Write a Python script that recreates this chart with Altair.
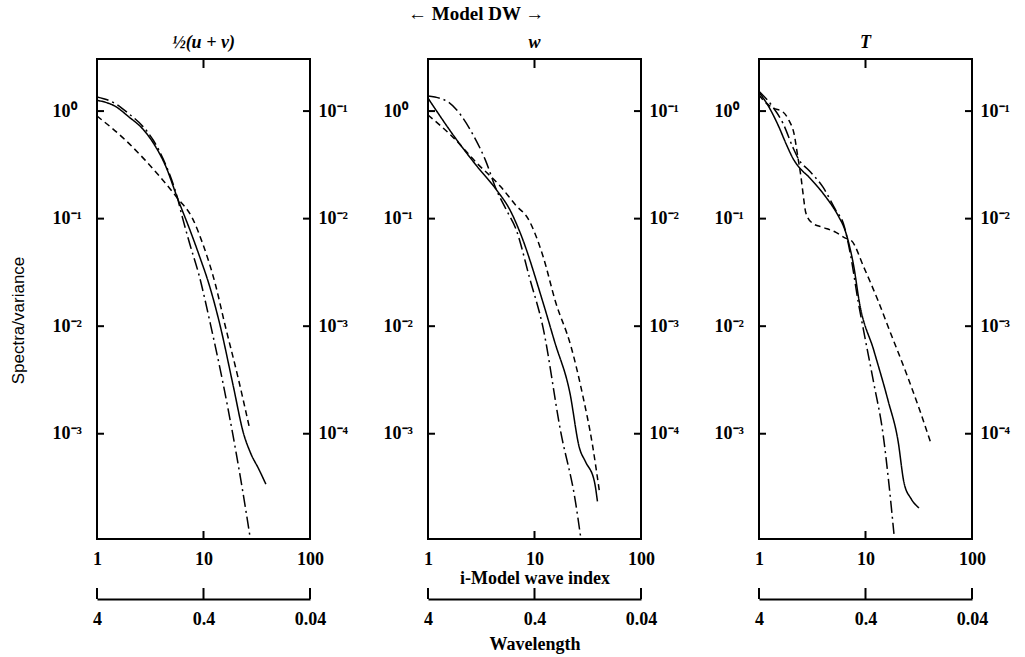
import altair as alt
import pandas as pd

# ---------------- data ----------------
# panel 1: 1/2(u+v)
UV_SOLID_K = [1, 1.5, 2.0, 2.7, 3.4, 4.4, 5.7, 7.4, 9.15, 11.4, 14.2, 19, 23.8, 27.7, 33, 38.5]
UV_SOLID_S = [1.26, 1.1, 0.88, 0.68, 0.5, 0.31, 0.155, 0.08, 0.045, 0.0236, 0.0105, 0.0028, 0.001, 0.00066, 0.00047, 0.00034]
UV_DASH_K = [1, 1.84, 2.83, 3.84, 5.7, 7.9, 9.8, 13, 15.8, 21, 27.2]
UV_DASH_S = [0.9, 0.54, 0.35, 0.25, 0.155, 0.1, 0.059, 0.024, 0.0106, 0.0034, 0.0011]
UV_DDOT_K = [1, 1.5, 2.0, 2.7, 3.4, 4.4, 5.7, 6.3, 7.4, 9.15, 11.6, 15, 18.8, 23, 27.2]
UV_DDOT_S = [1.35, 1.17, 0.94, 0.72, 0.53, 0.32, 0.155, 0.105, 0.059, 0.029, 0.0105, 0.0032, 0.001, 0.00032, 0.000114]

# panel 2: w
W_SOLID_K = [1, 1.86, 2.86, 4.38, 5.92, 7.33, 12.0, 15.5, 21.4, 26.5, 30.1, 36.5, 39]
W_SOLID_S = [1.32, 0.54, 0.31, 0.186, 0.119, 0.074, 0.0167, 0.0071, 0.00245, 0.00073, 0.00055, 0.00036, 0.000235]
W_DASH_K = [1, 1.75, 2.86, 4.78, 6.73, 8.7, 12, 15.8, 21.9, 28.3, 35, 40.7]
W_DASH_S = [0.92, 0.56, 0.33, 0.2, 0.132, 0.1, 0.045, 0.0167, 0.0066, 0.0023, 0.00079, 0.00029]
W_DDOT_K = [1, 1.5, 2.03, 2.68, 3.46, 4.38, 5.43, 6.73, 9, 12.0, 17.6, 24.3, 27.1]
W_DDOT_S = [1.38, 1.24, 0.92, 0.59, 0.35, 0.186, 0.121, 0.079, 0.028, 0.0098, 0.00105, 0.00023, 0.00011]

# panel 3: T
T_SOLID_K = [1, 1.24, 1.54, 1.79, 2.13, 2.38, 2.95, 3.99, 5.64, 6.28, 6.85, 7.8, 8.7, 12.0, 16.3, 20.2, 23, 26.7, 31.8]
T_SOLID_S = [1.5, 1.09, 0.71, 0.50, 0.35, 0.30, 0.243, 0.172, 0.103, 0.083, 0.063, 0.035, 0.0173, 0.0059, 0.00203, 0.00086, 0.00035, 0.00025, 0.000204]
T_DASH_K = [1, 1.09, 1.35, 1.68, 1.91, 2.13, 2.32, 2.48, 2.59, 2.76, 3.21, 3.99, 5.28, 6.56, 7.31, 9.68, 13.1, 17.3, 25.1, 33.2, 41.2]
T_DASH_S = [1.41, 1.27, 1.07, 0.98, 0.82, 0.62, 0.37, 0.243, 0.172, 0.112, 0.090, 0.083, 0.0745, 0.0655, 0.063, 0.035, 0.0173, 0.0085, 0.0033, 0.00153, 0.00081]
T_DDOT_K = [1, 1.35, 1.68, 2.08, 2.38, 2.95, 3.99, 5.28, 6.2, 7.31, 8.5, 9.48, 12.0, 14.6, 16.6, 18.5]
T_DDOT_S = [1.53, 1.09, 0.77, 0.46, 0.35, 0.28, 0.196, 0.119, 0.09, 0.0436, 0.0173, 0.0097, 0.0029, 0.001, 0.00034, 0.000117]

PANEL_TITLES = ["½(u + v)", "w", "T"]
X_TICKS = [1, 10, 100]
X_INNER_TICKS = [10]
LEFT_TICKS = [1, 0.1, 0.01, 0.001]
LEFT_LABELS = ["10⁰", "10⁻¹", "10⁻²", "10⁻³"]
RIGHT_TICKS = [0.1, 0.01, 0.001, 0.0001]
RIGHT_LABELS = ["10⁻¹", "10⁻²", "10⁻³", "10⁻⁴"]
WL_TICKS = [4, 0.4, 0.04]

STYLES = ["solid", "dashed", "dashdot"]
DASHES = [[1, 0], [6, 4], [12, 4, 2, 4]]

# ---------------- layout / style ----------------
W, H = 213, 480
Y_DOMAIN = [1.05e-4, 3.05]
R_DOMAIN = [1.05e-5, 0.305]
X_DOMAIN = [1, 100]
WL_DOMAIN = [0.04, 4]
SERIF = "Liberation Serif"
SANS = "Liberation Sans"
BOLD = "bold"


def label_expr(labels, shift):
    arr = "[" + ",".join("'%s'" % l for l in labels) + "]"
    return "%s[-round(log(datum.value)/LN10) - %d]" % (arr, shift)


def panel(title, series, xtitle=None, wltitle=None, ytitle=None):
    rows = []
    for style, (k, s) in zip(STYLES, series):
        rows += [{"k": a, "s": b, "style": style} for a, b in zip(k, s)]
    df = pd.DataFrame(rows)

    xscale = alt.Scale(type="log", domain=X_DOMAIN)
    yscale = alt.Scale(type="log", domain=Y_DOMAIN)

    x_axis = alt.Axis(values=X_TICKS, format="~g", ticks=False, tickSize=0, domain=False,
                      grid=False, labelFlush=False, labelPadding=11, labelFont=SERIF,
                      labelFontSize=18, labelFontWeight=BOLD, labelColor="black", title=xtitle,
                      titleFont=SERIF, titleFontSize=18, titleFontWeight=BOLD,
                      titleColor="black", titlePadding=1)
    yargs = dict(values=LEFT_TICKS, labelExpr=label_expr(LEFT_LABELS, 0), ticks=False,
                 tickSize=0, domain=False, grid=False, labelFlush=False, labelAlign="left",
                 labelBaseline="middle", labelPadding=45, labelFont=SERIF, labelFontSize=18,
                 labelFontWeight=BOLD, labelColor="black", title=ytitle)
    if ytitle:
        yargs.update(titleFont=SANS, titleFontSize=17, titleFontWeight="normal",
                     titleColor="black", titleX=-79, titleY=H / 2 + 21,
                     titleAlign="center", titleBaseline="middle")
    y_axis = alt.Axis(**yargs)

    lines = alt.Chart(df).mark_line(color="black", strokeWidth=1.5, interpolate="monotone").encode(
        x=alt.X("k:Q", scale=xscale, axis=x_axis),
        y=alt.Y("s:Q", scale=yscale, axis=y_axis),
        strokeDash=alt.StrokeDash("style:N", scale=alt.Scale(domain=STYLES, range=DASHES), legend=None),
        order=alt.Order("k:Q"),
    )

    xt = pd.DataFrame({"t": X_INNER_TICKS})
    xt_bottom = alt.Chart(xt).mark_rule(color="black", strokeWidth=2).encode(
        x=alt.X("t:Q", scale=xscale, axis=x_axis), y=alt.value(H), y2=alt.value(H - 8))
    xt_top = alt.Chart(xt).mark_rule(color="black", strokeWidth=2).encode(
        x=alt.X("t:Q", scale=xscale, axis=x_axis), y=alt.value(0), y2=alt.value(9))
    yt = pd.DataFrame({"t": LEFT_TICKS})
    yt_left = alt.Chart(yt).mark_rule(color="black", strokeWidth=2).encode(
        y=alt.Y("t:Q", scale=yscale, axis=y_axis), x=alt.value(0), x2=alt.value(7))

    inner = alt.layer(lines, xt_bottom, xt_top, yt_left)

    r_axis = alt.Axis(values=RIGHT_TICKS, labelExpr=label_expr(RIGHT_LABELS, 1), orient="right",
                      ticks=False, tickSize=0, domain=False, grid=False, labelFlush=False,
                      labelBaseline="middle", labelPadding=8, labelFont=SERIF, labelFontSize=18,
                      labelFontWeight=BOLD, labelColor="black", title=None)
    rt = pd.DataFrame({"t": RIGHT_TICKS})
    rt_right = alt.Chart(rt).mark_rule(color="black", strokeWidth=2).encode(
        y=alt.Y("t:Q", scale=alt.Scale(type="log", domain=R_DOMAIN), axis=r_axis),
        x=alt.value(W - 7), x2=alt.value(W))

    wl_axis = alt.Axis(values=WL_TICKS, format="~g", orient="bottom", offset=60, ticks=False,
                       tickSize=0, domain=True, domainColor="black", domainWidth=2, grid=False,
                       labelFlush=False, labelPadding=11, labelFont=SERIF, labelFontSize=18,
                       labelFontWeight=BOLD, labelColor="black", title=wltitle, titleFont=SERIF,
                       titleFontSize=18, titleFontWeight=BOLD, titleColor="black", titlePadding=7)
    wt = pd.DataFrame({"t": WL_TICKS})
    wl = alt.Chart(wt).mark_rule(color="black", strokeWidth=2).encode(
        x=alt.X("t:Q", scale=alt.Scale(type="log", domain=WL_DOMAIN, reverse=True), axis=wl_axis),
        y=alt.value(H + 49), y2=alt.value(H + 60))

    return alt.layer(inner, rt_right, wl).resolve_scale(x="independent", y="independent").properties(
        width=W, height=H,
        title=alt.TitleParams(title, font=SERIF, fontStyle="italic", fontSize=18,
                              fontWeight=BOLD, color="black", offset=6))


p1 = panel(PANEL_TITLES[0], [(UV_SOLID_K, UV_SOLID_S), (UV_DASH_K, UV_DASH_S), (UV_DDOT_K, UV_DDOT_S)],
           ytitle="Spectra/variance")
p2 = panel(PANEL_TITLES[1], [(W_SOLID_K, W_SOLID_S), (W_DASH_K, W_DASH_S), (W_DDOT_K, W_DDOT_S)],
           xtitle="i-Model wave index", wltitle="Wavelength")
p3 = panel(PANEL_TITLES[2], [(T_SOLID_K, T_SOLID_S), (T_DASH_K, T_DASH_S), (T_DDOT_K, T_DDOT_S)])

chart = alt.hconcat(p1, p2, p3, spacing=118, bounds="flush").properties(
    title=alt.TitleParams("← Model DW →", font=SERIF, fontSize=19, fontWeight=BOLD,
                          color="black", anchor="middle", dx=-33, offset=9),
    padding={"left": 8, "top": 5, "right": 5, "bottom": 5},
    background="white",
).configure_view(stroke="black", strokeWidth=2)

chart.save("out.html", embed_options={"renderer": "svg", "actions": False})
